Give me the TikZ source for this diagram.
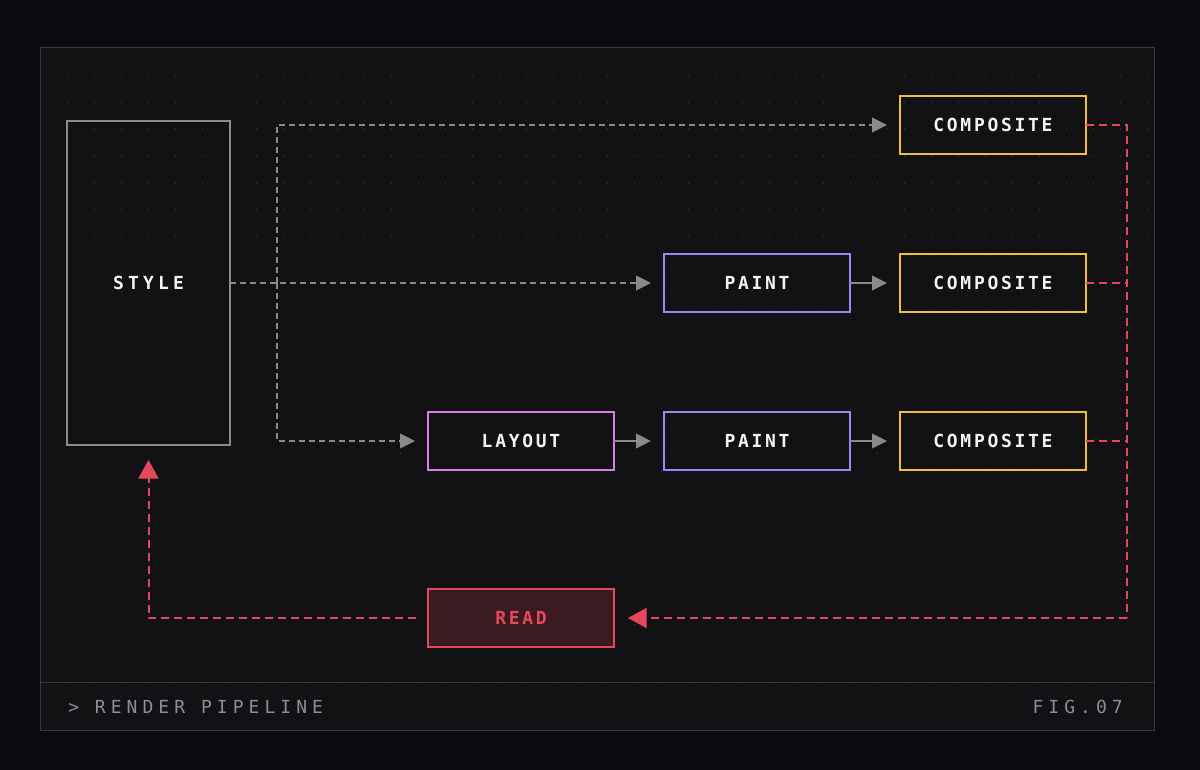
\documentclass[tikz,border=0pt]{standalone}
\usepackage{fontspec}
\usetikzlibrary{arrows.meta,positioning}
\definecolor{outerbg}{HTML}{0B0B0F}
\definecolor{panelbg}{HTML}{121214}
\definecolor{panelline}{HTML}{3A3A3E}
\definecolor{griddot}{HTML}{2A2A2F}
\definecolor{stylegray}{HTML}{8C8C8C}
\definecolor{flowgray}{HTML}{8A8A8A}
\definecolor{layoutpink}{HTML}{D97FE6}
\definecolor{paintpurple}{HTML}{9D88F2}
\definecolor{compyellow}{HTML}{F0C03C}
\definecolor{readred}{HTML}{E5485D}
\definecolor{readfill}{HTML}{3B1A21}
\definecolor{labelwhite}{HTML}{F2F2F2}
\definecolor{captiongray}{HTML}{8E8C98}
\newfontfamily\boxfont[LetterSpace=15]{DejaVu Sans Mono}
\newfontfamily\widefont[LetterSpace=23]{DejaVu Sans Mono}
\newfontfamily\capfont[LetterSpace=28]{DejaVu Sans Mono}

\begin{document}
\begin{tikzpicture}[x=0.75pt,y=-0.75pt,node distance=37.5pt,
    stage/.style={draw,line width=1.5pt,minimum width=139.5pt,minimum height=43.5pt,
      inner sep=0pt,outer sep=0pt,text=labelwhite,
      font=\boxfont\bfseries\fontsize{13.5pt}{15pt}\selectfont},
    caption/.style={text=captiongray,inner sep=0pt,font=\capfont\fontsize{13.5pt}{15pt}\selectfont},
    flow/.style={draw=flowgray,line width=1.1pt,dash pattern=on 4.5pt off 3pt},
    feed/.style={draw=flowgray,line width=1.1pt},
    back/.style={draw=readred,line width=1.5pt,dash pattern=on 6pt off 3.75pt},
    gtip/.style={-{Triangle[length=11.25pt,width=11pt]},shorten >=9.75pt},
    rtip/.style={-{Triangle[length=14pt,width=15pt]}}]
  % background and panel
  \fill[outerbg] (0,0) rectangle (1200,770);
  \fill[panelbg] (40,48) rectangle (1154,730);
  \foreach \gx in {40,67,...,1154}
    \draw[griddot,line width=0.75pt,dash pattern=on 0.75pt off 6pt] (\gx,48) -- (\gx,730);
  \foreach \gy in {48,75,...,730}
    \draw[griddot,line width=0.75pt,dash pattern=on 0.75pt off 6pt] (40,\gy) -- (1154,\gy);
  \draw[panelline,line width=0.75pt] (40,48) rectangle (1154,730);
  \draw[panelline,line width=0.75pt] (40,682) -- (1154,682);

  % stages
  \node[stage,draw=stylegray,minimum width=122pt,minimum height=243pt,
    font=\widefont\bfseries\fontsize{13.5pt}{15pt}\selectfont] (style) at (148.5,283) {STYLE};
  \node[stage,draw=layoutpink] (layout) at (521,441) {LAYOUT};
  \node[stage,draw=paintpurple] (paint3) [right=of layout] {PAINT};
  \node[stage,draw=compyellow] (comp3) [right=of paint3] {COMPOSITE};
  \node[stage,draw=paintpurple] (paint2) [above=75pt of paint3] {PAINT};
  \node[stage,draw=compyellow] (comp2) [right=of paint2] {COMPOSITE};
  \node[stage,draw=compyellow] (comp1) [above=75pt of comp2] {COMPOSITE};
  \node[stage,draw=readred,fill=readfill,text=readred] (read) [below=89.25pt of layout] {READ};
  \coordinate (trunk) at (277,283);
  \coordinate (bus) at (1127,283);

  % forward paths
  \draw[flow,gtip] (style.east) -- (paint2.west);
  \draw[flow,gtip] (trunk) |- (comp1.west);
  \draw[flow,gtip] (trunk) |- (layout.west);
  \draw[feed,gtip] (layout) -- (paint3);
  \draw[feed,gtip] (paint3) -- (comp3);
  \draw[feed,gtip] (paint2) -- (comp2);

  % read back
  \draw[back] (comp1.east) -| (read.east -| bus);
  \draw[back] (comp2.east) -- (comp2.east -| bus);
  \draw[back] (comp3.east) -- (comp3.east -| bus);
  \draw[back,rtip,shorten >=10.5pt] (read.east -| bus) -- (read.east);
  \draw[back,rtip,shorten <=9pt,shorten >=11.25pt] (read.west) -| (style.south);

  % footer
  \node[caption,anchor=west] (title) at (68,707) {> RENDER PIPELINE};
  \node[caption,anchor=east] (fig) at (1123,707) {FIG.07};
\end{tikzpicture}
\end{document}
